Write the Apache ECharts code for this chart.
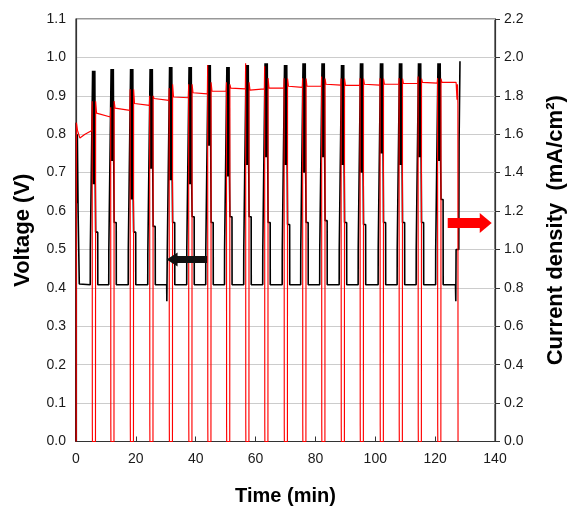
<!DOCTYPE html>
<html><head><meta charset="utf-8">
<script src="https://cdn.jsdelivr.net/npm/echarts@6/dist/echarts.min.js"></script>
<style>html,body{margin:0;padding:0;background:#fff}#c{width:572px;height:513px}</style>
</head><body><div id="c"></div>
<script>
// ---- axis ticks ----
const timeTicks = [0, 20, 40, 60, 80, 100, 120, 140];
const voltTicks = [0, 0.1, 0.2, 0.3, 0.4, 0.5, 0.6, 0.7, 0.8, 0.9, 1.0, 1.1];
const currentTicks = [0, 0.2, 0.4, 0.6, 0.8, 1.0, 1.2, 1.4, 1.6, 1.8, 2.0, 2.2];

// ---- centre time (min) of each load interruption ----
const cycleCenters = [6.01, 12.19, 18.70, 25.22, 31.73, 38.24, 44.59, 50.87, 57.28, 63.63,
  70.14, 76.32, 82.67, 89.18, 95.52, 102.20, 108.55, 114.90, 121.41];

// ---- voltage (V) levels read for each interruption ----
const voltRest = 0.408;
const voltPre  = [0.50, 0.50, 0.50, 0.49, 0.50, 0.50, 0.50, 0.50, 0.50, 0.50, 0.50, 0.50, 0.50, 0.50, 0.50, 0.50, 0.50, 0.50, 0.50];
const voltTop  = [0.965, 0.97, 0.97, 0.97, 0.975, 0.975, 0.98, 0.975, 0.98, 0.985, 0.98, 0.985, 0.985, 0.98, 0.985, 0.985, 0.985, 0.985, 0.985];
const voltLow  = [0.67, 0.73, 0.63, 0.71, 0.68, 0.67, 0.77, 0.69, 0.72, 0.74, 0.72, 0.70, 0.74, 0.72, 0.70, 0.75, 0.72, 0.74, 0.73];
const voltPost = [0.545, 0.57, 0.545, 0.56, 0.57, 0.585, 0.57, 0.585, 0.585, 0.57, 0.565, 0.57, 0.575, 0.57, 0.565, 0.57, 0.57, 0.57, 0.63];
// time offsets (min) of the voltage trace around each interruption centre
const voltShape = [[-1.25, 'rest'], [-1.22, 'pre'], [-0.6, 'pre'], [-0.46, 'top'], [-0.34, 'low'], [-0.24, 'top'],
  [-0.1, 'low'], [0.02, 'top'], [0.16, 'low'], [0.28, 'top'], [0.42, 'low'], [0.56, 'post'], [1.25, 'post'], [1.28, 'rest']];
const voltStart = [[0, 0], [0.08, 0.83], [0.3, 0.62], [0.45, 0.80], [0.7, 0.60], [1.1, 0.41]];
const voltExtra = [[30.3, 0.408], [30.35, 0.365], [30.4, 0.408]];
const voltEnd   = [[126.8, 0.408], [126.9, 0.365], [127.0, 0.50], [127.9, 0.50], [128.0, 0.78], [128.3, 0.99]];

// ---- current density (mA/cm2) levels read for each interruption ----
const curBefore = [1.62, 1.69, 1.724, 1.75, 1.776, 1.79, 1.81, 1.824, 1.836, 1.836, 1.84, 1.844, 1.85, 1.856, 1.856, 1.856, 1.86, 1.864, 1.866];
const curSpike  = [1.772, 1.74, 1.834, 1.80, 1.84, 1.86, 1.96, 1.87, 1.97, 1.954, 1.892, 1.892, 1.90, 1.89, 1.892, 1.892, 1.892, 1.90, 1.892];
const curPeak   = [1.772, 1.772, 1.834, 1.80, 1.86, 1.86, 1.87, 1.86, 1.87, 1.892, 1.89, 1.89, 1.89, 1.89, 1.89, 1.89, 1.89, 1.89, 1.89];
const curAfter  = [1.71, 1.736, 1.76, 1.786, 1.794, 1.816, 1.824, 1.84, 1.83, 1.84, 1.85, 1.85, 1.86, 1.854, 1.86, 1.86, 1.864, 1.87, 1.87];
const curShape  = [[-0.7, 'before'], [-0.6, 'spike'], [-0.55, 0.08], [-0.52, 0], [0.5, 0], [0.55, 'peak'], [0.85, 'after']];
const curStart  = [[0.05, 0], [0.12, 1.66], [0.5, 1.62], [1.3, 1.58], [3.0, 1.60]];
const curEnd    = [[127.0, 1.87], [127.3, 1.78], [127.45, 1.86], [127.6, 1.76], [127.65, 0]];

// ---- annotation arrows ----
const voltArrow = [[43.8, 0.474], [32.1, 0.474]];
const curArrow  = [[124.2, 1.138], [136.9, 1.138]];

function build(start, shape, levels, extra, end) {
  const pts = start.slice();
  cycleCenters.forEach((c, k) => {
    shape.forEach(([dt, key]) => {
      const v = typeof key === 'number' ? key : (key === 'rest' ? voltRest : levels[key][k]);
      pts.push([Math.round((c + dt) * 1000) / 1000, v]);
    });
  });
  extra.forEach(p => pts.push(p));
  end.forEach(p => pts.push(p));
  pts.sort((a, b) => a[0] - b[0]);
  return pts;
}
const voltData = build(voltStart, voltShape, {pre: voltPre, top: voltTop, low: voltLow, post: voltPost}, voltExtra, voltEnd);
const curData = build(curStart, curShape, {before: curBefore, spike: curSpike, peak: curPeak, after: curAfter}, [], curEnd);

const FONT = "'Liberation Sans', Arial, sans-serif";
const labelStyle = {fontFamily: FONT, fontSize: 14, color: '#1a1a1a'};
const yNameStyle = {fontFamily: FONT, fontSize: 22, fontWeight: 'bold', color: '#000'};
const xNameStyle = {fontFamily: FONT, fontSize: 20, fontWeight: 'bold', color: '#000'};

const chart = echarts.init(document.getElementById('c'), null, {renderer: 'canvas'});
chart.setOption({
  animation: false,
  backgroundColor: '#fff',
  grid: {left: 76, right: 77, top: 19, bottom: 71.5, show: true, borderColor: '#333', borderWidth: 1.2,
    containLabel: false, outerBoundsMode: 'none'},
  xAxis: {
    type: 'value', min: timeTicks[0], max: timeTicks[timeTicks.length - 1], interval: timeTicks[1] - timeTicks[0],
    name: 'Time (min)', nameLocation: 'middle', nameGap: 45, nameTextStyle: xNameStyle,
    axisLine: {show: true, lineStyle: {color: '#333', width: 1.2}},
    axisTick: {show: true, inside: true, length: 5, lineStyle: {color: '#333'}},
    axisLabel: Object.assign({margin: 11}, labelStyle),
    splitLine: {show: false}
  },
  yAxis: [{
    type: 'value', min: voltTicks[0], max: voltTicks[voltTicks.length - 1], interval: 0.1,
    name: 'Voltage (V)', nameLocation: 'middle', nameGap: 42, nameTextStyle: yNameStyle,
    axisLine: {show: true, lineStyle: {color: '#333', width: 1.2}},
    axisTick: {show: false},
    axisLabel: Object.assign({margin: 10, formatter: v => v.toFixed(1)}, labelStyle),
    splitLine: {show: true, lineStyle: {color: '#cccccc', width: 1}}
  }, {
    type: 'value', position: 'right', min: currentTicks[0], max: currentTicks[currentTicks.length - 1], interval: 0.2,
    name: 'Current density  (mA/cm²)', nameLocation: 'middle', nameGap: 50, nameRotate: 90, nameTextStyle: yNameStyle,
    axisLine: {show: true, lineStyle: {color: '#333', width: 1.2}},
    axisTick: {show: true, inside: false, length: 5, lineStyle: {color: '#333'}},
    axisLabel: Object.assign({margin: 9, formatter: v => v.toFixed(1)}, labelStyle),
    splitLine: {show: false}
  }],
  series: [{
    type: 'line', name: 'arrowV', yAxisIndex: 0, data: [], z: 1, silent: true,
    markLine: {silent: true, symbol: ['none', 'triangle'], symbolSize: [14, 11], label: {show: false},
      lineStyle: {color: '#111', width: 7, type: 'solid'}, emphasis: {disabled: true}, animation: false,
      data: [[{coord: voltArrow[0]}, {coord: voltArrow[1]}]]}
  }, {
    type: 'line', name: 'arrowI', yAxisIndex: 1, data: [], z: 1, silent: true,
    markLine: {silent: true, symbol: ['none', 'triangle'], symbolSize: [20, 12], label: {show: false},
      lineStyle: {color: '#ff0000', width: 10, type: 'solid'}, emphasis: {disabled: true}, animation: false,
      data: [[{coord: curArrow[0]}, {coord: curArrow[1]}]]}
  }, {
    type: 'line', name: 'Voltage', yAxisIndex: 0, data: voltData, z: 2, showSymbol: false, symbol: 'none',
    lineStyle: {color: '#000', width: 1.6}, silent: true
  }, {
    type: 'line', name: 'Current density', yAxisIndex: 1, data: curData, z: 3, showSymbol: false, symbol: 'none',
    lineStyle: {color: '#ff0000', width: 1.15}, silent: true
  }]
});
</script>
</body></html>
